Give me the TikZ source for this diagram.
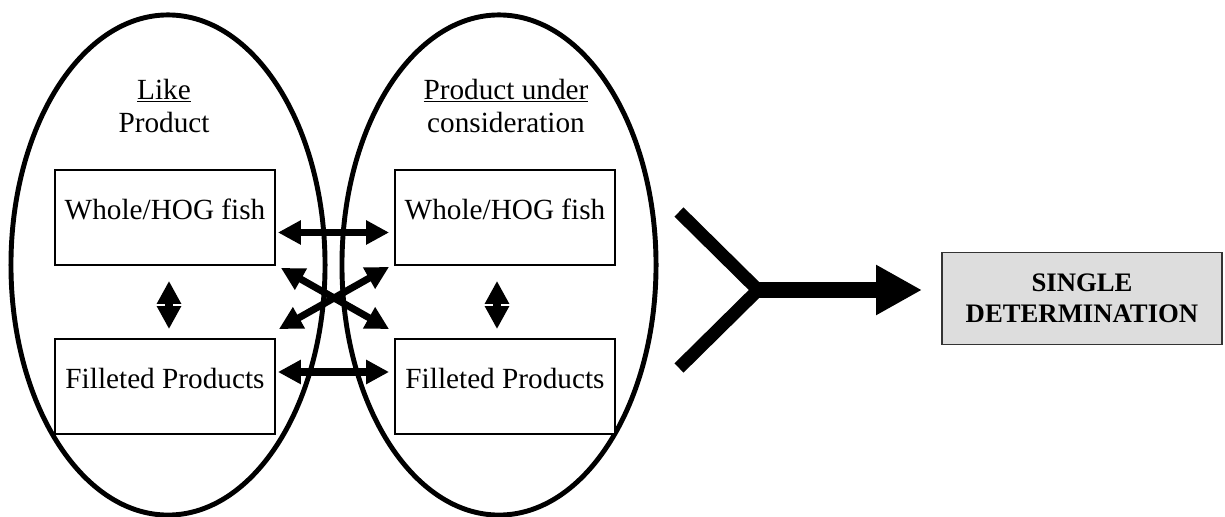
\documentclass[tikz,border=0pt]{standalone}
\usepackage{fontspec}
\setmainfont{Liberation Serif}
\usetikzlibrary{shapes.geometric,arrows.meta,calc}
\definecolor{boxgray}{RGB}{221,221,221}

\begin{document}
\begin{tikzpicture}[x=0.025cm, y=-0.025cm,
  ring/.style={ellipse, draw, line width=3.5pt, minimum width=7.85cm, minimum height=12.5cm, inner sep=0pt},
  prodbox/.style={rectangle, draw, fill=white, line width=1.3pt, minimum width=5.5cm,
    inner xsep=0pt, inner ysep=0pt, text height=1.25cm, text depth=1.125cm,
    font=\fontsize{20.8}{23.5}\selectfont},
  title/.style={align=center, font=\fontsize{20.8}{23.5}\selectfont},
  link/.style={{Triangle[length=0.575cm,width=0.575cm]}-{Triangle[length=0.575cm,width=0.575cm]}, line width=5pt}]
  \useasboundingbox (0,0) rectangle (1225,517);

  \node[ring] (lell) at (168,265) {};
  \node[ring] (rell) at (499,265) {};
  \node[title] (ltitle) at (164,106) {\underline{Like}\\Product};
  \node[title] (rtitle) at (506,106) {\underline{Product under}\\consideration};

  \node[prodbox] (lw) at (165,217.5) {Whole/HOG fish};
  \node[prodbox] (lf) at (165,386.5) {Filleted Products};
  \node[prodbox] (rw) at (505,217.5) {Whole/HOG fish};
  \node[prodbox] (rf) at (505,386.5) {Filleted Products};

  \draw[link] ($(lw.east)+(2,15)$) -- ($(rw.west)+(-5,15)$);
  \draw[link] ($(lf.east)+(2,-14.5)$) -- ($(rf.west)+(-5,-14.5)$);
  \draw[link] ($(lw.south east)+(5,2)$) -- ($(rf.north west)+(-5,-9)$);
  \draw[link] ($(rw.south west)+(-5,1)$) -- ($(lf.north east)+(3,-9)$);
  \draw[link] ($(lw.south)+(4,15)$) -- ($(lf.north)+(4,-9)$);
  \draw[link] ($(rw.south)+(-8,15)$) -- ($(rf.north)+(-8,-9)$);

  \node[draw=black!80, fill=boxgray, line width=1.3pt, minimum width=7cm, minimum height=2.3cm,
    align=center, font=\bfseries\fontsize{19}{22}\selectfont] (sd) at (1082,298.5) {SINGLE\\DETERMINATION};

  \coordinate (armup) at (679,212);
  \coordinate (armlow) at (679,368);
  \coordinate (fork) at (758,290);
  \draw[line width=9.2pt] (armup) -- (fork) -- (armlow);
  \draw[-{Triangle[length=1.15cm,width=1.175cm]}, line width=10.7pt, shorten >=0.475cm] (fork) -- (sd.west |- fork);
\end{tikzpicture}
\end{document}
